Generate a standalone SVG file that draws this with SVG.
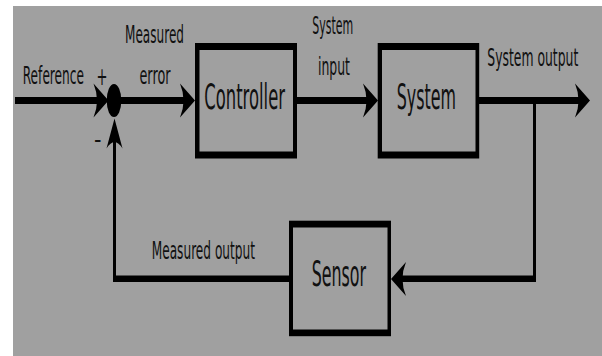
<svg xmlns="http://www.w3.org/2000/svg" width="602" height="356" viewBox="0 0 602 356">
  <style>
    .lbl { font-family: "DejaVu Sans", "Liberation Sans", sans-serif; fill: #111111; font-size: 24px; }
    .big { font-size: 36px; }
    .frame { fill: #000; }
    .inner { fill: #a0a0a0; }
    .wire { fill: #000; }
  </style>
  <defs>
    <!-- arrowhead pointing right, tip at origin -->
    <path id="headR" d="M0 0 L-15 -17 Q-8 0 -15 17 Z"/>
    <!-- arrowhead pointing up, tip at origin -->
    <path id="headU" d="M0 0 L-8 30 Q0 17 8 30 Z"/>
  </defs>

  <rect x="0" y="0" width="602" height="356" fill="#ffffff"/>
  <rect x="13" y="6" width="589" height="350" fill="#a0a0a0"/>

  <!-- connectors -->
  <g id="connectors" class="wire">
    <!-- reference input into summing junction -->
    <rect x="15" y="97" width="86" height="7"/>
    <use href="#headR" x="108.5" y="100.5"/>
    <!-- summing junction to controller -->
    <rect x="120" y="97" width="68" height="7"/>
    <use href="#headR" x="195" y="100.5"/>
    <!-- controller to system -->
    <rect x="297" y="97" width="74" height="7"/>
    <use href="#headR" x="378" y="100.5"/>
    <!-- system output -->
    <rect x="479" y="97" width="104" height="7"/>
    <use href="#headR" x="590" y="100.5"/>
    <!-- feedback tap down to sensor -->
    <rect x="533" y="100" width="3" height="182"/>
    <rect x="398" y="275.5" width="138" height="6.5"/>
    <use href="#headR" x="391" y="279" transform="rotate(180 391 279)"/>
    <!-- measured output back to summing junction -->
    <rect x="113" y="275.5" width="176" height="6.5"/>
    <rect x="113" y="140" width="3" height="142"/>
    <use href="#headU" x="114.5" y="118.5"/>
  </g>

  <!-- summing junction (text uses a half-width condensed frame) -->
  <g id="sum">
    <ellipse cx="114" cy="100.5" rx="7.3" ry="16.5" fill="#000"/>
    <g transform="scale(0.5,1)">
      <text class="lbl" x="193" y="85" textLength="22" lengthAdjust="spacingAndGlyphs">+</text>
      <text class="lbl" x="188" y="148" textLength="15" lengthAdjust="spacingAndGlyphs">-</text>
    </g>
  </g>

  <g id="controller">
    <rect class="frame" x="195" y="43" width="102" height="115.5"/>
    <rect class="inner" x="199.5" y="50" width="93.5" height="101.5"/>
    <text class="lbl big" transform="scale(0.5,1)" x="408.6" y="109.5" textLength="161.4" lengthAdjust="spacingAndGlyphs">Controller</text>
  </g>

  <g id="system">
    <rect class="frame" x="377.7" y="43" width="101.5" height="115.5"/>
    <rect class="inner" x="382" y="50" width="93.5" height="101.5"/>
    <text class="lbl big" transform="scale(0.5,1)" x="793.4" y="109.5" textLength="118.6" lengthAdjust="spacingAndGlyphs">System</text>
  </g>

  <g id="sensor">
    <rect class="frame" x="289" y="220.7" width="102" height="115.5"/>
    <rect class="inner" x="293" y="227.5" width="94.5" height="102"/>
    <text class="lbl big" transform="scale(0.5,1)" x="623.4" y="286.5" textLength="108.6" lengthAdjust="spacingAndGlyphs">Sensor</text>
  </g>

  <!-- signal labels, set in a half-width frame -->
  <g id="labels" transform="scale(0.5,1)">
    <text class="lbl" x="45.4" y="84.3" textLength="122.6" lengthAdjust="spacingAndGlyphs">Reference</text>
    <text class="lbl" x="250" y="43.3" textLength="118" lengthAdjust="spacingAndGlyphs">Measured</text>
    <text class="lbl" x="279" y="84" textLength="62" lengthAdjust="spacingAndGlyphs">error</text>
    <text class="lbl" x="624.6" y="34.5" textLength="82" lengthAdjust="spacingAndGlyphs">System</text>
    <text class="lbl" x="636" y="75" textLength="64" lengthAdjust="spacingAndGlyphs">input</text>
    <text class="lbl" x="974.6" y="66.5" textLength="182" lengthAdjust="spacingAndGlyphs">System output</text>
    <text class="lbl" x="303.4" y="259.3" textLength="206.6" lengthAdjust="spacingAndGlyphs">Measured output</text>
  </g>
</svg>
